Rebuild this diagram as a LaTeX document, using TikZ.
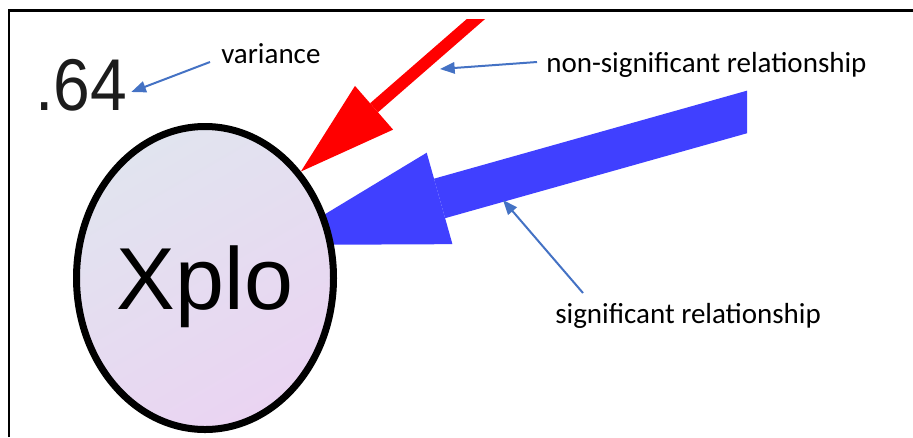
\documentclass[tikz,border=0pt]{standalone}
\usepackage{fontspec}
\setmainfont{Carlito}
\newfontfamily\amosfont{Liberation Sans}
\usetikzlibrary{arrows.meta,calc,shapes.geometric}
\definecolor{sigblue}{HTML}{4040FF}
\definecolor{nsred}{HTML}{FF0000}
\definecolor{notecol}{HTML}{4472C4}
\definecolor{xplotop}{HTML}{E1E4EF}
\definecolor{xplobot}{HTML}{EAD4F2}
\definecolor{amosgrey}{HTML}{1C1C1C}

\begin{document}
\begin{tikzpicture}[x=0.75pt, y=-0.75pt,
    lbl/.style={inner sep=0pt, font=\fontsize{21.75}{26}\selectfont},
    note/.style={notecol, line width=1.5pt, -{Triangle[length=11pt, width=8.5pt]}}]

    \useasboundingbox (0,0) rectangle (913,437);

    % frame
        \draw [line width=1.9pt] (9,437) -- (9,10.5) -- (913,10.5);

    % significant path (under the ellipse)
        \coordinate (bluestart) at (760,108.3);
        \coordinate (bluetip) at (274,245);
        \begin{scope}
            \clip (0,19) rectangle (747,437);
            \draw [sigblue, line width=30.75pt,
                -{Triangle[length=129pt, width=71.25pt, line width=0pt]}]
                (bluestart) -- (bluetip);
        \end{scope}

    % latent variable
        \node [ellipse, draw, line width=5.25pt, inner sep=0pt,
            minimum width=192.75pt, minimum height=227.25pt,
            top color=xplotop, bottom color=xplobot, shading angle=30,
            text depth=0pt, font=\amosfont\fontsize{66}{70}\selectfont]
            (xplo) at (205,278) {Xplo};

    % non-significant path
        \coordinate (redstart) at (492,5);
        \begin{scope}
            \clip (0,19) rectangle (747,437);
            \draw [nsred, line width=9pt,
                -{Triangle[length=72.75pt, width=43.5pt, line width=0pt]}]
                (redstart) -- (xplo.48);
        \end{scope}

    % variance
        \node [inner sep=0pt, anchor=base west, amosgrey,
            font=\amosfont\fontsize{55}{60}\selectfont]
            (v64) at (35,110) {\scalebox{0.9}[1]{.64}};

    % notes
        \node [lbl, anchor=base west] (varlbl) at (221,63) {variance};
        \node [lbl, anchor=base west] (nonsig) at (546,72) {non-significant relationship};
        \node [lbl, anchor=base west] (sig) at (555,323) {significant relationship};

        \coordinate (redpt) at (440,69);
        \coordinate (bluept) at (503,200);

        \draw [note] ([xshift=-8.25pt, yshift=0.75pt]varlbl.base west)
            -- ([xshift=3pt, yshift=13.5pt]v64.base east);
        \draw [note] ([xshift=-6.75pt, yshift=7.5pt]nonsig.base west) -- (redpt);
        \draw [note] ([xshift=21pt, yshift=22.5pt]sig.base west) -- (bluept);

\end{tikzpicture}
\end{document}
